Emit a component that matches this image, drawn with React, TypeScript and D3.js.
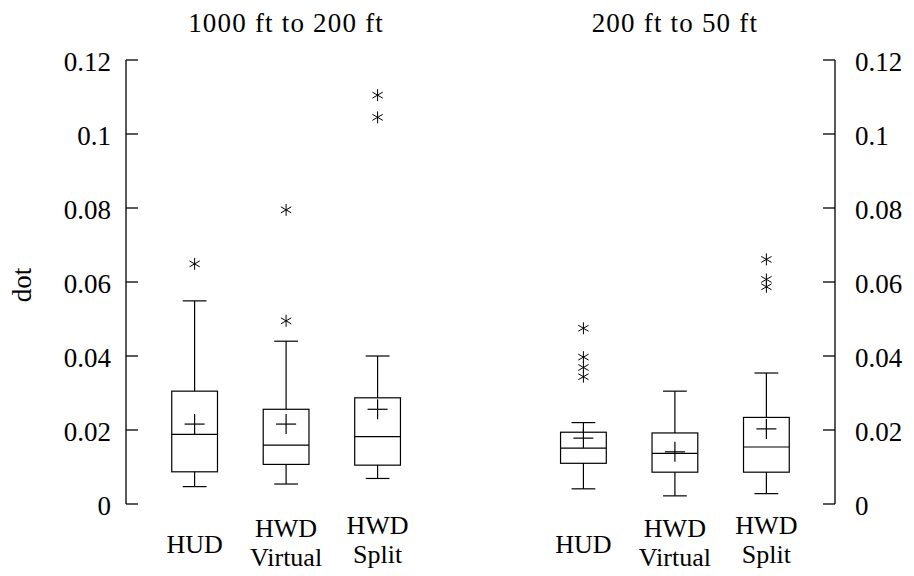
import React from 'react';
import * as d3 from 'd3';

// box plot summary (units: dot)
const panels = ["1000 ft to 200 ft", "200 ft to 50 ft"];
const categories = ["HUD", "HWD Virtual", "HWD Split", "HUD", "HWD Virtual", "HWD Split"];
const positions = [1, 2, 3, 5.25, 6.25, 7.25];
const whiskerLow = [0.0047, 0.0054, 0.0069, 0.0041, 0.0022, 0.0028];
const q1 = [0.0087, 0.0107, 0.0105, 0.011, 0.0086, 0.0086];
const median = [0.0188, 0.0159, 0.0182, 0.0151, 0.0137, 0.0154];
const q3 = [0.0305, 0.0256, 0.0287, 0.0194, 0.0192, 0.0234];
const whiskerHigh = [0.0549, 0.044, 0.04, 0.022, 0.0305, 0.0354];
const means = [0.0216, 0.0216, 0.0256, 0.0178, 0.0141, 0.0203];
const outliers = [
  [0.0649],
  [0.0795, 0.0495],
  [0.1105, 0.1045],
  [0.0475, 0.0397, 0.0369, 0.0344],
  [],
  [0.0661, 0.0607, 0.0587],
];
const yTicks = [0, 0.02, 0.04, 0.06, 0.08, 0.1, 0.12];

const W = 914;
const H = 576;
const font = "'Liberation Serif', 'Times New Roman', serif";

export default function App() {
  const x = d3.scaleLinear().domain([0.25, 8]).range([126, 835]);
  const y = d3.scaleLinear().domain([0, 0.12]).range([504, 60]);
  const halfBox = x(0.25) - x(0);
  const halfCap = x(0.13) - x(0);
  const star = d3.symbol().type(d3.symbolAsterisk).size(100);
  const fmt = (v: number) => (v === 0 ? "0" : String(+v.toFixed(2)));
  const left = x.range()[0];
  const right = x.range()[1];

  return (
    <svg width={W} height={H} style={{position: "absolute", left: 0, top: 0, background: "#fff"}}
      fontFamily={font} fill="#000">
      {/* panel titles */}
      <text x={x(2)} y={32} fontSize={27} textAnchor="middle" letterSpacing={1.2}>{panels[0]}</text>
      <text x={x(6.25)} y={32} fontSize={27} textAnchor="middle" letterSpacing={1.2}>{panels[1]}</text>

      {/* y label */}
      <text transform={`translate(31,285) rotate(-90)`} fontSize={27} textAnchor="middle">dot</text>

      {/* left axis */}
      <line x1={left} x2={left} y1={y(0.12)} y2={y(0)} stroke="#000" strokeWidth={1.3} />
      {yTicks.map((t, i) => (
        <g key={"l" + i}>
          <line x1={left} x2={left + 12} y1={y(t)} y2={y(t)} stroke="#000" strokeWidth={1.3} />
          <text x={left - 15} y={y(t)} dy="0.4em" fontSize={27} textAnchor="end">{fmt(t)}</text>
        </g>
      ))}

      {/* right axis */}
      <line x1={right} x2={right} y1={y(0.12)} y2={y(0)} stroke="#000" strokeWidth={1.3} />
      {yTicks.map((t, i) => (
        <g key={"r" + i}>
          <line x1={right - 12} x2={right} y1={y(t)} y2={y(t)} stroke="#000" strokeWidth={1.3} />
          <text x={right + 20} y={y(t)} dy="0.4em" fontSize={27} textAnchor="start">{fmt(t)}</text>
        </g>
      ))}

      {/* boxes */}
      {positions.map((p, i) => {
        const cx = x(p);
        return (
          <g key={"b" + i} stroke="#000" strokeWidth={1.2} fill="none">
            <line x1={cx} x2={cx} y1={y(q3[i])} y2={y(whiskerHigh[i])} />
            <line x1={cx} x2={cx} y1={y(q1[i])} y2={y(whiskerLow[i])} />
            <line x1={cx - halfCap} x2={cx + halfCap} y1={y(whiskerHigh[i])} y2={y(whiskerHigh[i])} />
            <line x1={cx - halfCap} x2={cx + halfCap} y1={y(whiskerLow[i])} y2={y(whiskerLow[i])} />
            <rect x={cx - halfBox} y={y(q3[i])} width={2 * halfBox} height={y(q1[i]) - y(q3[i])} />
            <line x1={cx - halfBox} x2={cx + halfBox} y1={y(median[i])} y2={y(median[i])} />
            {/* mean */}
            <line x1={cx - 10} x2={cx + 10} y1={y(means[i])} y2={y(means[i])} />
            <line x1={cx} x2={cx} y1={y(means[i]) - 10} y2={y(means[i]) + 10} />
            {outliers[i].map((o, j) => (
              <path key={j} d={star() as string} transform={`translate(${cx},${y(o)})`} strokeWidth={1} />
            ))}
          </g>
        );
      })}

      {/* category labels */}
      {positions.map((p, i) => {
        const words = categories[i].split(" ");
        const cx = x(p);
        if (words.length === 1) {
          return <text key={"c" + i} x={cx} y={553} fontSize={26} textAnchor="middle">{words[0]}</text>;
        }
        const base = words[1] === "Split" ? 534 : 537;
        return (
          <g key={"c" + i} fontSize={26}>
            <text x={cx} y={base} textAnchor="middle">{words[0]}</text>
            <text x={cx} y={base + 29} textAnchor="middle">{words[1]}</text>
          </g>
        );
      })}
    </svg>
  );
}
